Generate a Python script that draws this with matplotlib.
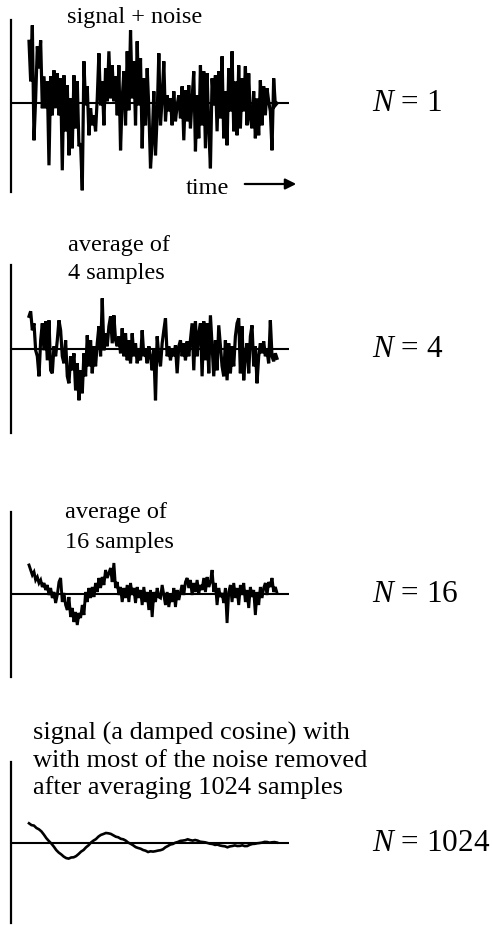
import numpy as np
import matplotlib
matplotlib.use("Agg")
import matplotlib.pyplot as plt
from matplotlib.patches import FancyArrowPatch

plt.rcParams["font.family"] = "Liberation Serif"
plt.rcParams["mathtext.fontset"] = "custom"
plt.rcParams["mathtext.it"] = "Liberation Serif:italic"
plt.rcParams["mathtext.rm"] = "Liberation Serif"

# Recorded traces (arbitrary amplitude units, uniformly sampled in time)
single_sweep = [
    62, 22, 78, -37, 5, 57, 35, 63, -5, 27, -5, 22, -62, 27, -12, 33, -5, 30,
    -12, 25, -67, 28, -28, 18, -52, 5, -45, 28, -25, 22, -43, -40, -87, 42,
    -2, 17, -32, -5, -22, -12, -28, 5, 50, -2, 22, -22, 35, 2, 52, 5, 38, 2,
    27, -12, 38, -47, 5, 32, -22, 52, -7, 73, 5, 42, -22, 62, -2, 45, -45, 25,
    -22, 35, -5,
    -65, -38, 12, -52, -12, 50, -22, 5, 42, -18, 8, -8, 5, -22, 12, -18, -2,
    8, -15, 17, -37, 13, -18, 18, -25, 5, 32, -48, 8, -35, 38, -22, 32, -45,
    30, -25, -65, 25, -2, 28, -28, 32, -15, 47, -35, 12, -42, 35, -8, 52, -28,
    22, -32, 38, -25, 25, -8, 37, -22, 30, -15, -25, 12, -35, 5, -32, 23, -22,
    17, -12, 15, 2, -8, -47, 25, -2, 0,
]

avg_4 = [
    33, 38, 19, 26, -1, -7, -27, 9, 26, -1, 28, -11, 29, -21, -24, 3, -7, 9,
    29, 19, -7, -14, 9, -27, -34, -7, -21, -4, -41, -14, -51, -21, -44, -4,
    -27, 14, -17, 9, -24, 3, -17, 6, 23, -7, 51, -1, 16, 3, 23, 33, 6, 34, 9,
    3, 13, -4, 21, -7, 16, -11, 9, -14, 16, -7, 6, -14, -1, -11, 19, -7, -1,
    -14, 3, -7, -21, -1, -51, 13, -7,
    -17, 6, 19, 31, -7, 3, -11, 1, -7, 4, -24, 3, 9, -7, 6, -11, 8, -7, 9, 26,
    -21, 28, -7, 16, 26, -27, 28, -11, 26, -24, 34, 3, -27, 9, -21, 24, 3,
    -17, -27, 9, -31, 6, -24, 3, -17, 13, 26, 31, -24, 23, -31, -4, 6, -24,
    13, 24, -17, 3, -34, -7, 6, -4, 8, -7, -1, -14, 29, -7, -12, -4, -9,
]

avg_16 = [
    29, 24, 19, 22, 14, 17, 11, 14, 7, 11, 4, 9, -1, 6, -4, 2, -9, -1, 12, 16,
    -8, 1, -11, -16, -3, -23, -14, -28, -18, -31, -19, -24, -11, -21, 2, -8,
    6, -4, 7, -3, 11, 2, 16, 6, 17, 9, 24, 16, 21, 26, 12, 31, 6, 12, -1, 7,
    -8, 6, -4, 9, -8, 11, -1, 6, -9, 7, -4, 4, -11, 7, -8, 2, -16, 4, -23, 2,
    -8, 6, -3,
    -4, 9, -1, -11, 2, -13, -1, -8, 6, -13, 4, -6, 2, 9, -1, 12, 16, 6, 14,
    -1, 11, 2, 14, 1, 9, 4, 16, 2, 17, 7, 12, 24, 2, 11, -11, 6, -3, 1, -9, 6,
    -29, 2, 9, -8, 11, -4, 6, -11, 9, -1, 11, -8, 4, -14, 7, -3, 4, -21, 2,
    -11, 7, -4, 6, 11, -1, 12, 7, 16, 2, 7, 1,
]

avg_1024 = [
    20, 18.2, 17.7, 15.3, 14, 11.9, 8.7, 5.1, 2.3, -0.2, -3.3, -6.8, -9.3,
    -11.1, -13.3, -14.8, -15.3, -14.2, -14, -12.8, -10.7, -8.3, -6.7, -4.0,
    -2, 0.8, 2.7, 4.2, 6.7, 8.4, 9.3, 10.3, 10, 9.4, 8, 6.6, 6, 4.5, 4, 2.7,
    0.7, -0.5, -2, -3.8, -4.7, -5.4, -6.7, -7.4, -8.7, -8.0, -8.3, -7.9, -7.3,
    -6.9, -6, -4.0, -2.7, -1.2, -0.7, 0.6, 1.3, 2.4, 2.7, 3.1, 4, 3.2, 2.7,
    3.3, 2.7, 1.6, 1.3, 1.0, 0.3, -0.4, -0.7, -1.6, -1.3, -2.2, -2.7, -3.0,
    -4, -3.1, -2.7, -2.1, -2.7, -2.6, -2, -2.8, -2.7, -1.5, -0.7, -0.5, 0,
    0.3, 0.7, 1.4, 1.3, 0.6, 1, 1.2, 0.7,
]

traces = [single_sweep, avg_4, avg_16, avg_1024]
n_labels = ["$N$ = 1", "$N$ = 4", "$N$ = 16", "$N$ = 1024"]

W, H = 492, 925
fig = plt.figure(figsize=(W / 100, H / 100), dpi=100)

# panel geometry in pixels: (axis top, axis bottom, zero-line row)
panels = [(20, 192, 103.3), (265, 433, 349.3), (512, 677, 594), (762, 923, 843.3)]
ax_left, ax_right = 11, 289
trace_start, trace_end = 29, 277
line_widths = [2.3, 2.3, 2.1, 1.9]

for (top, bottom, zero), vals, lw in zip(panels, traces, line_widths):
    ax = fig.add_axes([ax_left / W, 1 - bottom / H,
                       (ax_right - ax_left) / W, (bottom - top) / H])
    t = np.linspace(0.0, 1.0, len(vals))
    ax.plot(t, vals, color="black", lw=lw, solid_joinstyle="miter")
    ax.axhline(0, color="black", lw=1.5)
    span = trace_end - trace_start
    ax.set_xlim(-(trace_start - ax_left) / span, 1 + (ax_right - trace_end) / span)
    ax.set_ylim(zero - bottom, zero - top)
    for side in ("top", "right", "bottom"):
        ax.spines[side].set_visible(False)
    ax.spines["left"].set_linewidth(1.6)
    ax.set_xticks([])
    ax.set_yticks([])
    ax.patch.set_visible(False)


def ftext(x, y, s, **kw):
    fig.text(x / W, 1 - y / H, s, color="black", **kw)


ftext(135, 17, "signal + noise", ha="center", va="center", fontsize=17.5)
ftext(207, 188, "time", ha="center", va="center", fontsize=17.5)
fig.add_artist(FancyArrowPatch(
    (242 / W, 1 - 184 / H), (299 / W, 1 - 184 / H), transform=fig.transFigure,
    arrowstyle="-|>", mutation_scale=16, lw=1.6, color="black"))

ftext(68, 251, "average of", ha="left", va="baseline", fontsize=17.5)
ftext(68, 279, "4 samples", ha="left", va="baseline", fontsize=17.5)
ftext(65, 518, "average of", ha="left", va="baseline", fontsize=17.5)
ftext(65, 548, "16 samples", ha="left", va="baseline", fontsize=17.5)
ftext(33, 740, "signal (a damped cosine) with", ha="left", va="baseline", fontsize=19)
ftext(33, 767, "with most of the noise removed", ha="left", va="baseline", fontsize=19)
ftext(33, 794, "after averaging 1024 samples", ha="left", va="baseline", fontsize=19)

for (top, bottom, zero), lab in zip(panels, n_labels):
    ftext(372, zero, lab, ha="left", va="center", fontsize=22.5)

fig.savefig("out.png", dpi=100, facecolor="white")
